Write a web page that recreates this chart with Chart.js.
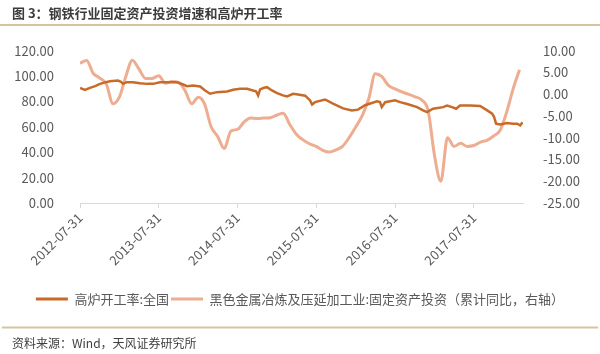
<!DOCTYPE html>
<html>
<head>
<meta charset="utf-8">
<script src="https://cdn.jsdelivr.net/npm/chart.js@4/dist/chart.umd.min.js"></script>
<style>
  html, body { margin: 0; padding: 0; background: #fff; }
  #wrap { width: 600px; height: 354px; }
</style>
</head>
<body>
<div id="wrap"><canvas id="chart" width="600" height="354"></canvas></div>
<script>
// x ticks (one per year)
const xTickLabels = ['2012-07-31', '2013-07-31', '2014-07-31', '2015-07-31', '2016-07-31', '2017-07-31'];
const xMin = '2012-07-31';
const xMax = '2018-03-16';

// 高炉开工率:全国 (left axis)
const furnaceDates = [
  '2012-07-31', '2012-08-23', '2012-09-15', '2012-10-09', '2012-11-01', '2012-11-24', '2012-12-17',
  '2013-01-23', '2013-02-06', '2013-02-15', '2013-03-05', '2013-04-03', '2013-05-05', '2013-06-07',
  '2013-07-05', '2013-08-06', '2013-09-21', '2013-10-24', '2013-11-21', '2013-12-09', '2014-01-06',
  '2014-02-08', '2014-03-03', '2014-03-26', '2014-04-27', '2014-06-13', '2014-07-11', '2014-08-12',
  '2014-09-14', '2014-10-11', '2014-10-25', '2014-11-04', '2014-11-13', '2014-12-01', '2014-12-15',
  '2015-01-07', '2015-01-31', '2015-02-27', '2015-03-18', '2015-04-15', '2015-05-08', '2015-06-10',
  '2015-07-03', '2015-07-12', '2015-07-26', '2015-09-10', '2015-10-17', '2015-12-03', '2016-01-13',
  '2016-02-10', '2016-03-14', '2016-05-08', '2016-05-22', '2016-05-30', '2016-06-15', '2016-07-31',
  '2016-08-23', '2016-09-25', '2016-11-10', '2016-12-08', '2016-12-26', '2017-01-23', '2017-03-11',
  '2017-03-29', '2017-04-21', '2017-05-10', '2017-05-28', '2017-07-14', '2017-08-29', '2017-10-01',
  '2017-10-24', '2017-11-02', '2017-11-11', '2017-11-30', '2018-01-01', '2018-01-29', '2018-02-17',
  '2018-03-03', '2018-03-14'
];
const furnaceRate = [
  90.6, 89.1, 90.7, 92.0, 93.8, 95.0, 95.9,
  96.4, 95.5, 93.8, 95.1, 95.1, 94.3, 93.8,
  93.8, 95.1, 95.1, 95.1, 93.3, 92.0, 92.5,
  91.7, 88.6, 86.0, 87.3, 87.8, 89.1, 89.9,
  89.9, 88.6, 88.0, 84.7, 89.5, 90.7, 91.2,
  88.6, 86.5, 84.7, 83.9, 86.0, 85.5, 84.5,
  80.8, 77.5, 79.4, 81.5, 78.2, 74.5, 72.9,
  73.5, 77.0, 80.0, 79.5, 75.5, 79.4, 80.8,
  79.4, 78.0, 75.5, 72.9, 71.6, 74.2, 75.5,
  76.8, 75.5, 74.2, 76.8, 76.8, 76.4, 72.9,
  70.3, 67.7, 62.5, 61.8, 63.0, 62.5, 62.5,
  61.1, 63.5
];

// 黑色金属冶炼及压延加工业:固定资产投资 累计同比 (right axis)
const investDates = [
  '2012-07-31', '2012-08-31', '2012-09-30', '2012-10-31', '2012-11-30', '2012-12-31',
  '2013-01-31', '2013-02-28', '2013-03-31', '2013-04-30', '2013-05-31', '2013-06-30',
  '2013-07-31', '2013-08-31', '2013-09-30', '2013-10-31', '2013-11-30', '2013-12-31',
  '2014-01-31', '2014-02-28', '2014-03-31', '2014-04-30', '2014-05-31', '2014-06-30',
  '2014-07-31', '2014-08-31', '2014-09-30', '2014-10-31', '2014-11-30', '2014-12-31',
  '2015-01-31', '2015-02-28', '2015-03-31', '2015-04-30', '2015-05-31', '2015-06-30',
  '2015-07-31', '2015-08-31', '2015-09-30', '2015-10-31', '2015-11-30', '2015-12-31',
  '2016-01-31', '2016-02-29', '2016-03-31', '2016-04-30', '2016-05-31', '2016-06-30',
  '2016-07-31', '2016-08-31', '2016-09-30', '2016-10-31', '2016-11-30', '2016-12-31',
  '2017-01-31', '2017-02-28', '2017-03-31', '2017-04-30', '2017-05-31', '2017-06-30',
  '2017-07-31', '2017-08-31', '2017-09-30', '2017-10-31', '2017-11-30', '2017-12-31',
  '2018-01-31', '2018-02-28'
];
const investYoY = [
  7.1, 7.7, 4.8, 3.7, 2.3, -2.2,
  -0.5, 4.0, 7.8, 5.8, 3.6, 3.6,
  4.2, 2.5, 2.9, 2.7, 0.8, -2.2,
  -0.7, -2.2, -7.5, -9.7, -12.5, -8.5,
  -8.1, -6.4, -5.5, -5.6, -5.5, -5.4,
  -4.8, -4.4, -7.0, -9.2, -10.5, -11.4,
  -12.0, -12.9, -13.3, -12.8, -12.0, -10.0,
  -7.5, -5.0, -1.0, 4.7, 4.0, 2.0,
  1.2, 0.5, 0.0, -0.6, -1.3, -3.8,
  -14.5, -20.0, -10.0, -12.0, -11.3, -12.0,
  -11.8, -11.0, -10.6, -9.6, -8.3, -4.0,
  1.5, 5.6
];

const furnaceColor = 'rgb(200,106,40)';
const investColor = 'rgb(238,172,145)';
const textColor = '#595959';
const fontFamily = '"Noto Sans CJK SC", "Noto Sans", sans-serif';

function toPoints(dates, values) {
  return dates.map((d, i) => ({ x: Date.parse(d), y: values[i] }));
}

function pad2(n) { return n < 10 ? '0' + n : '' + n; }
function fmtDate(ms) {
  const d = new Date(ms);
  return d.getUTCFullYear() + '-' + pad2(d.getUTCMonth() + 1) + '-' + pad2(d.getUTCDate());
}

// separator lines under the title and above the source note
const ruleLines = {
  id: 'ruleLines',
  afterDraw(chart) {
    const ctx = chart.ctx;
    ctx.save();
    ctx.strokeStyle = '#d6c3a0';
    ctx.lineWidth = 2;
    ctx.beginPath();
    ctx.moveTo(0, 25);
    ctx.lineTo(600, 25);
    ctx.moveTo(2, 327.5);
    ctx.lineTo(598, 327.5);
    ctx.stroke();
    ctx.restore();
  }
};

const ctx = document.getElementById('chart').getContext('2d');
new Chart(ctx, {
  type: 'line',
  data: {
    datasets: [{
      label: '高炉开工率:全国',
      data: toPoints(furnaceDates, furnaceRate),
      borderColor: furnaceColor,
      backgroundColor: furnaceColor,
      borderWidth: 2.5,
      pointRadius: 0,
      tension: 0,
      yAxisID: 'y'
    }, {
      label: '黑色金属冶炼及压延加工业:固定资产投资（累计同比，右轴）',
      data: toPoints(investDates, investYoY),
      borderColor: investColor,
      backgroundColor: investColor,
      borderWidth: 3,
      pointRadius: 0,
      cubicInterpolationMode: 'monotone',
      yAxisID: 'y1'
    }]
  },
  options: {
    responsive: false,
    animation: false,
    layout: { padding: { left: 12, right: 12, top: 0, bottom: 0 } },
    scales: {
      x: {
        type: 'linear',
        min: Date.parse(xMin),
        max: Date.parse(xMax),
        afterBuildTicks: (scale) => {
          scale.ticks = xTickLabels.map((d) => ({ value: Date.parse(d) }));
        },
        afterFit: (scale) => { scale.height = 87.5; },
        grid: { display: true, drawOnChartArea: false, drawTicks: true, tickLength: 5, color: '#d9d9d9' },
        border: { display: true, color: '#d9d9d9' },
        ticks: {
          minRotation: 45,
          maxRotation: 45,
          padding: 2,
          color: textColor,
          font: { family: fontFamily, size: 13 },
          callback: (v) => fmtDate(v)
        }
      },
      y: {
        position: 'left',
        min: 0,
        max: 120,
        afterFit: (scale) => { scale.width = 68; },
        grid: { display: false },
        border: { display: false },
        ticks: {
          stepSize: 20,
          padding: 18,
          color: textColor,
          font: { family: fontFamily, size: 13 },
          callback: (v) => v.toFixed(2)
        }
      },
      y1: {
        position: 'right',
        min: -25,
        max: 10,
        afterFit: (scale) => { scale.width = 65; },
        grid: { display: false },
        border: { display: false },
        ticks: {
          stepSize: 5,
          padding: 12,
          color: textColor,
          font: { family: fontFamily, size: 13 },
          callback: (v) => v.toFixed(2)
        }
      }
    },
    plugins: {
      title: {
        display: true,
        text: '图 3：钢铁行业固定资产投资增速和高炉开工率',
        align: 'start',
        color: '#3c3c3c',
        font: { family: fontFamily, size: 13, weight: 'bold' },
        padding: { top: 5, bottom: 30 }
      },
      subtitle: {
        display: true,
        position: 'bottom',
        text: '资料来源：Wind，天风证券研究所',
        align: 'start',
        color: '#404040',
        font: { family: fontFamily, size: 12 },
        padding: { top: 20.3, bottom: 3.8 }
      },
      legend: {
        position: 'bottom',
        labels: {
          boxWidth: 32,
          boxHeight: 3,
          padding: 2,
          color: textColor,
          font: { family: fontFamily, size: 13 },
          generateLabels: (chart) => chart.data.datasets.map((ds, i) => ({
            text: ds.label,
            fillStyle: ds.borderColor,
            strokeStyle: ds.borderColor,
            lineWidth: 0,
            fontColor: textColor,
            datasetIndex: i
          }))
        }
      },
      tooltip: { enabled: false }
    }
  },
  plugins: [ruleLines]
});
</script>
</body>
</html>
